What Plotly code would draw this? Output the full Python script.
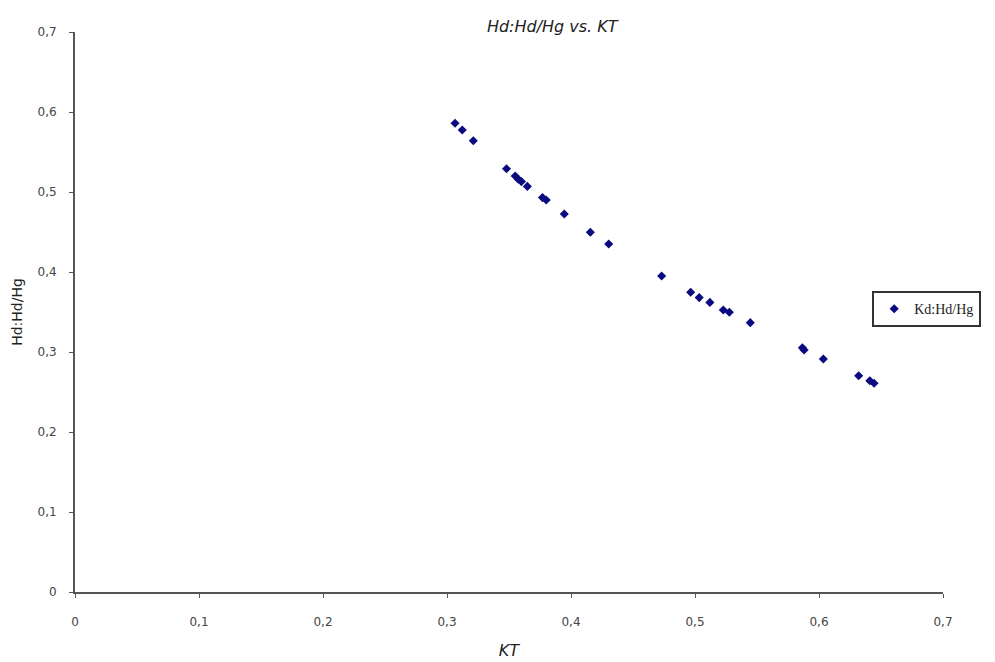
import plotly.graph_objects as go

kt = [0.3065, 0.3123, 0.3212, 0.348, 0.355, 0.3575, 0.360, 0.3648, 0.377, 0.380,
      0.3946, 0.4156, 0.4304, 0.4731, 0.4965, 0.5034, 0.512, 0.5228, 0.5277, 0.5446,
      0.5866, 0.588, 0.6035, 0.632, 0.641, 0.6444]
kd = [0.586, 0.5775, 0.564, 0.529, 0.520, 0.516, 0.513, 0.507, 0.493, 0.490,
      0.4725, 0.4496, 0.435, 0.395, 0.3746, 0.368, 0.362, 0.3525, 0.3496, 0.3367,
      0.3054, 0.3025, 0.2912, 0.2704, 0.264, 0.261]

tick_vals = [0, 0.1, 0.2, 0.3, 0.4, 0.5, 0.6, 0.7]
tick_text = ["0", "0,1", "0,2", "0,3", "0,4", "0,5", "0,6", "0,7"]

fig = go.Figure()
fig.add_trace(go.Scatter(
    x=kt, y=kd, mode="markers", name="Kd:Hd/Hg",
    marker=dict(symbol="diamond", size=7, color="#0a0a80"),
))

axis_common = dict(
    showgrid=False, zeroline=False, showline=True, linecolor="#555555", linewidth=2,
    ticks="outside", ticklen=4, tickcolor="#555555", tickwidth=1,
    tickfont=dict(family="DejaVu Sans", size=12, color="#444444"),
    tickvals=tick_vals, ticktext=tick_text, automargin=False,
)

fig.update_layout(
    width=995, height=662,
    margin=dict(l=75, r=52, t=32, b=70),
    paper_bgcolor="white", plot_bgcolor="white",
    title=dict(text="<i>Hd:Hd/Hg vs. KT</i>", x=0.555, xanchor="center", y=0.96, yanchor="middle",
               font=dict(family="DejaVu Sans", size=16, color="#222222")),
    xaxis=dict(range=[0, 0.7], ticklabelstandoff=14,
               title=dict(text="<i>KT</i>", font=dict(family="DejaVu Sans", size=16, color="#222222"), standoff=16),
               **axis_common),
    yaxis=dict(range=[0, 0.7], ticklabelstandoff=10,
               title=dict(text="Hd:Hd/Hg", font=dict(family="DejaVu Sans", size=14, color="#222222"), standoff=12),
               **axis_common),
    showlegend=True,
    legend=dict(x=1.044, y=0.505, xanchor="right", yanchor="middle",
                bordercolor="#333333", borderwidth=2, bgcolor="white",
                font=dict(family="Liberation Serif", size=14, color="#222222"),
                itemwidth=30, tracegroupgap=0),
)

fig.write_html("out.html")
